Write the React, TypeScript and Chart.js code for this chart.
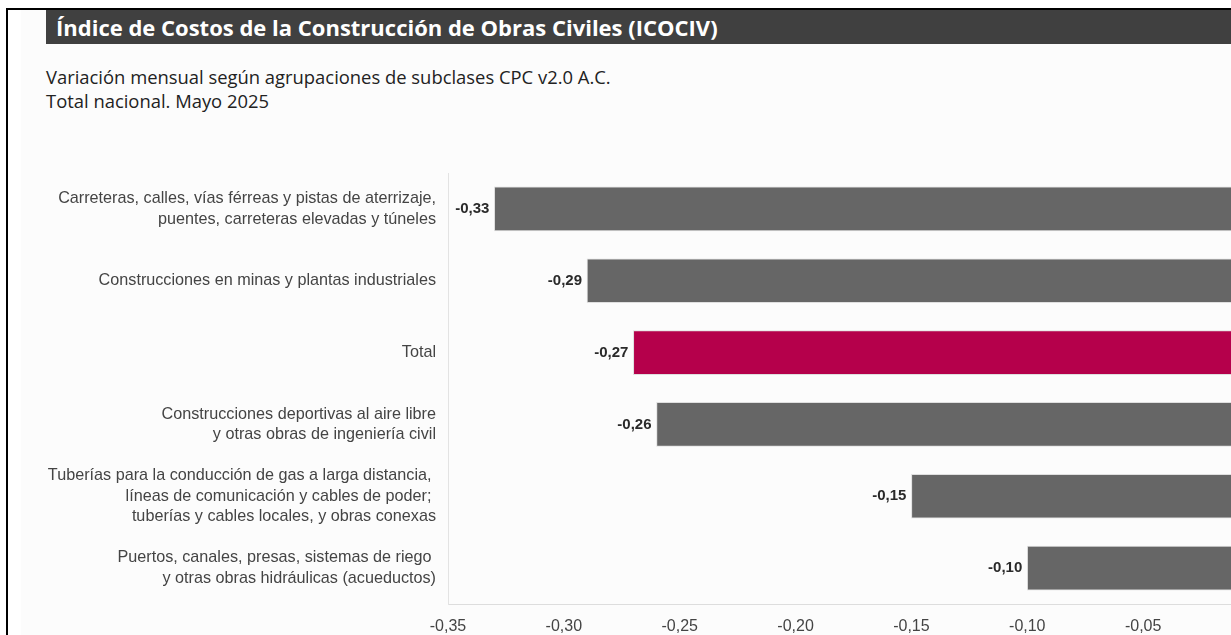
import React, { useEffect, useRef } from "react";
import { Chart, registerables } from "chart.js";

Chart.register(...registerables);

const categories: (string | string[])[] = [
  ["Carreteras, calles, vías férreas y pistas de aterrizaje,", "puentes, carreteras elevadas y túneles"],
  "Construcciones en minas y plantas industriales",
  "Total",
  ["Construcciones deportivas al aire libre", "y otras obras de ingeniería civil"],
  ["Tuberías para la conducción de gas a larga distancia, ", "líneas de comunicación y cables de poder; ", "tuberías y cables locales, y obras conexas"],
  ["Puertos, canales, presas, sistemas de riego ", "y otras obras hidráulicas (acueductos)"],
];
const values: number[] = [-0.33, -0.29, -0.27, -0.26, -0.15, -0.1];
const highlight: boolean[] = [false, false, true, false, false, false];

const GRAY = "#666666";
const RED = "#b5004b";
const FONT = "'Liberation Sans', Arial, sans-serif";

const fmt = (v: number) => v.toFixed(2).replace(".", ",");

const valueLabels = {
  id: "valueLabels",
  afterDatasetsDraw(chart: any) {
    const ctx = chart.ctx;
    const meta = chart.getDatasetMeta(0);
    ctx.save();
    ctx.font = `bold 15px ${FONT}`;
    ctx.fillStyle = "#2a2a2a";
    ctx.textAlign = "right";
    ctx.textBaseline = "middle";
    meta.data.forEach((bar: any, i: number) => {
      const v = chart.data.datasets[0].data[i] as number;
      ctx.fillText(fmt(v), bar.x - 5, bar.y);
    });
    ctx.restore();
  },
};

function BarChart() {
  const ref = useRef<HTMLCanvasElement | null>(null);
  useEffect(() => {
    if (!ref.current) return;
    const chart = new Chart(ref.current, {
      type: "bar",
      data: {
        labels: categories,
        datasets: [
          {
            data: values,
            backgroundColor: highlight.map((h) => (h ? RED : GRAY)),
            borderColor: "rgba(220,220,220,0.9)",
            borderWidth: 1,
            borderSkipped: false,
            barThickness: 44,
          },
        ],
      },
      options: {
        indexAxis: "y",
        animation: false,
        responsive: false,
        maintainAspectRatio: false,
        layout: { padding: { top: 13, right: 42, left: 0, bottom: 0 } },
        plugins: { legend: { display: false }, tooltip: { enabled: false } },
        scales: {
          x: {
            min: -0.35,
            max: 0,
            ticks: {
              stepSize: 0.05,
              callback: (v: any) => fmt(Number(v)),
              font: { family: FONT, size: 16 },
              color: "#444444",
              padding: 13,
            },
            grid: { display: false, drawTicks: false },
            border: { display: true, color: "#dddddd", width: 1 },
            afterFit: (s: any) => {
              s.height = 32;
              s.paddingLeft = 0;
              s.paddingRight = 0;
            },
          },
          y: {
            ticks: {
              font: { family: FONT, size: 16.2, lineHeight: 1.25 },
              color: "#444444",
              padding: 12,
              autoSkip: false,
            },
            grid: { display: false, drawTicks: false },
            border: { display: true, color: "#e3e3e3", width: 1 },
            afterFit: (s: any) => {
              s.width = 427;
              s.paddingTop = 0;
              s.paddingBottom = 0;
            },
          },
        },
      },
      plugins: [valueLabels],
    });
    return () => chart.destroy();
  }, []);
  return <canvas ref={ref} width={1280} height={476} style={{ display: "block" }} />;
}

export default function App() {
  return (
    <div style={{ position: "fixed", left: 0, top: 0, width: 1231, height: 635, overflow: "hidden", background: "#ffffff" }}>
      <div
        style={{
          position: "absolute",
          left: 6,
          top: 8,
          width: 1300,
          height: 700,
          borderTop: "2px solid #000",
          borderLeft: "2px solid #000",
          boxSizing: "border-box",
          background: "#ffffff",
        }}
      >
        <div style={{ position: "absolute", left: 13, top: 0, right: 0, bottom: 0, background: "#fcfcfc" }} />
      </div>
      <div
        style={{
          position: "absolute",
          left: 46,
          top: 10,
          right: 0,
          height: 34,
          background: "#404040",
          color: "#ffffff",
          fontFamily: "'Open Sans', sans-serif",
          fontWeight: 700,
          fontSize: 22,
          lineHeight: "34px",
          paddingLeft: 10,
          whiteSpace: "nowrap",
        }}
      >
        Índice de Costos de la Construcción de Obras Civiles (ICOCIV)
      </div>
      <div
        style={{
          position: "absolute",
          left: 46,
          top: 65,
          fontFamily: "'Open Sans', sans-serif",
          fontSize: 18.4,
          lineHeight: "24px",
          color: "#222222",
          whiteSpace: "nowrap",
        }}
      >
        <div>Variación mensual según agrupaciones de subclases CPC v2.0 A.C.</div>
        <div>Total nacional. Mayo 2025</div>
      </div>
      <div style={{ position: "absolute", left: 21, top: 160 }}>
        <BarChart />
      </div>
    </div>
  );
}
